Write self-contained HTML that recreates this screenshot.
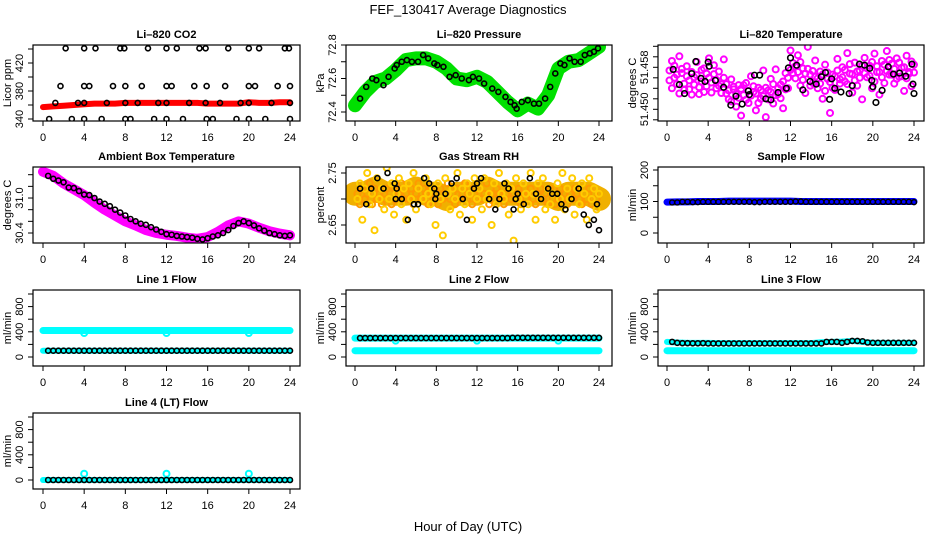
<!DOCTYPE html>
<html><head><meta charset="utf-8"><style>
html,body{margin:0;padding:0;background:#fff;width:936px;height:540px;overflow:hidden}
svg text{font-family:"Liberation Sans",Arial,sans-serif;fill:#000}
</style></head><body>
<svg id="chart" width="936" height="540" viewBox="0 0 936 540" xmlns="http://www.w3.org/2000/svg">
<defs id="defs"></defs>
<text x="468" y="14" font-size="13" text-anchor="middle">FEF_130417  Average Diagnostics</text>
<text x="468" y="531" font-size="13" text-anchor="middle">Hour of Day (UTC)</text>
</svg>
<script>
const xTicks=[0,4,8,12,16,20,24];
const halfHours=[0.5,1,1.5,2,2.5,3,3.5,4,4.5,5,5.5,6,6.5,7,7.5,8,8.5,9,9.5,10,10.5,11,11.5,12,12.5,13,13.5,14,14.5,15,15.5,16,16.5,17,17.5,18,18.5,19,19.5,20,20.5,21,21.5,22,22.5,23,23.5,24];
const hours=[0,1,2,3,4,5,6,7,8,9,10,11,12,13,14,15,16,17,18,19,20,21,22,23,24];
const denseHours=[0.24,0.48,0.72,0.96,1.2,1.44,1.68,1.92,2.16,2.4,2.64,2.88,3.12,3.36,3.6,3.84,4.08,4.32,4.56,4.8,5.04,5.28,5.52,5.76,6,6.24,6.48,6.72,6.96,7.2,7.44,7.68,7.92,8.16,8.4,8.64,8.88,9.12,9.36,9.6,9.84,10.08,10.32,10.56,10.8,11.04,11.28,11.52,11.76,12,12.24,12.48,12.72,12.96,13.2,13.44,13.68,13.92,14.16,14.4,14.64,14.88,15.12,15.36,15.6,15.84,16.08,16.32,16.56,16.8,17.04,17.28,17.52,17.76,18,18.24,18.48,18.72,18.96,19.2,19.44,19.68,19.92,20.16,20.4,20.64,20.88,21.12,21.36,21.6,21.84,22.08,22.32,22.56,22.8,23.04,23.28,23.52,23.76,24];

// CO2
const co2Band=[357,358,359,360,361,362,362,362,363,363,363,363,363,363,363,363,362,362,362,362,364,363,363,364,364];
const co2BlackT=[2.2,4,5.1,7.5,7.9,10.2,12,13,15.2,15.8,18,20,21,23.5,23.9, 1.7,4,4.5,6.8,8,9.6,12,12.5,14.7,15.9,17.7,20,20.6,22.8,24, 1.2,3.4,4,6.2,8,9.2,11.2,12,14.2,15.8,17.2,19.2,20,22.2,24, 0.6,2.8,4,5.7,8,8.5,10.8,12,13.6,15.9,16.5,18.8,20,21.6,24];
const co2BlackV=[441,441,441,441,441,441,441,441,441,441,441,441,441,441,441, 387,387,387,387,387,387,387,387,387,387,387,387,387,387,387, 363,363,363,363,363,363,363,363,363,363,363,363,363,363,363, 340,340,340,340,340,340,340,340,340,340,340,340,340,340,340];
// Pressure
const pressBand=[72.44,72.52,72.58,72.60,72.65,72.71,72.72,72.72,72.70,72.66,72.60,72.59,72.61,72.58,72.52,72.46,72.41,72.45,72.42,72.50,72.66,72.70,72.71,72.75,72.79];
const pressT=[0.5,1.1,1.7,2.1,2.8,3.3,3.9,4.1,4.6,5.1,5.6,6.2,6.7,7.2,7.8,8.1,8.7,9.3,9.9,10.5,11.2,11.6,12.2,12.7,13.5,14.1,14.8,15.3,15.7,15.9,16.4,17,17.6,18.1,18.7,19.2,19.7,20.2,20.6,21.1,21.6,22.2,22.6,23.1,23.5,23.9];
const pressV=[72.48,72.55,72.60,72.59,72.56,72.61,72.66,72.68,72.70,72.71,72.70,72.70,72.74,72.72,72.69,72.68,72.67,72.61,72.62,72.60,72.59,72.61,72.60,72.57,72.54,72.52,72.49,72.46,72.44,72.42,72.46,72.47,72.45,72.45,72.48,72.55,72.63,72.69,72.68,72.72,72.70,72.70,72.74,72.75,72.76,72.78];
// Li-820 temperature
const tempMag=[51.4574,51.4592,51.4560,51.4548,51.4601,51.4569,51.4537,51.4582,51.4555,51.4528,
51.4561,51.4590,51.4542,51.4575,51.4533,51.4568,51.4597,51.4551,51.4584,51.4540,
51.4572,51.4548,51.4595,51.4530,51.4519,51.4557,51.4538,51.4505,51.4546,51.4488,
51.4527,51.4550,51.4512,51.4563,51.4533,51.4498,51.4541,51.4520,51.4574,51.4485,
51.4536,51.4558,51.4511,51.4576,51.4529,51.4547,51.4502,51.4569,51.4540,51.4612,
51.4588,51.4559,51.4603,51.4545,51.4578,51.4531,51.4619,51.4566,51.4550,51.4593,
51.4540,51.4572,51.4520,51.4585,51.4558,51.4493,51.4566,51.4537,51.4596,51.4549,
51.4580,51.4553,51.4607,51.4568,51.4532,51.4589,51.4545,51.4574,51.4519,51.4598,
51.4561,51.4583,51.4540,51.4606,51.4571,51.4528,51.4592,51.4550,51.4611,51.4566,
51.4587,51.4549,51.4597,51.4562,51.4579,51.4535,51.4602,51.4571,51.4544,51.4585];
const tempMag2=[51.4555,51.4540,51.4583,51.4566,51.4530,51.4577,51.4549,51.4563,51.4538,51.4571,
51.4547,51.4565,51.4529,51.4553,51.4578,51.4544,51.4560,51.4532,51.4567,51.4556,
51.4545,51.4531,51.4560,51.4548,51.4536,51.4515,51.4543,51.4529,51.4522,51.4539,
51.4546,51.4518,51.4535,51.4526,51.4544,51.4530,51.4512,51.4537,51.4525,51.4541,
51.4519,51.4533,51.4548,51.4527,51.4540,51.4521,51.4553,51.4538,51.4560,51.4575,
51.4569,51.4582,51.4571,51.4590,51.4556,51.4568,51.4577,51.4545,51.4573,51.4562,
51.4559,51.4549,51.4566,51.4535,51.4570,51.4552,51.4541,51.4563,51.4574,51.4557,
51.4561,51.4575,51.4548,51.4586,51.4567,51.4555,51.4572,51.4560,51.4583,51.4569,
51.4578,51.4564,51.4590,51.4553,51.4582,51.4571,51.4561,51.4585,51.4573,51.4594,
51.4566,51.4577,51.4558,51.4589,51.4563,51.4580,51.4559,51.4568,51.4591,51.4570];
const tempBlackT=[0.6,1.2,1.7,2.4,2.8,3.3,3.7,4,4.1,4.7,5.5,6.2,6.7,7.3,7.9,8,8.5,9,9.6,10.1,10.8,11.6,11.8,12,12.6,13.2,13.9,14.5,15,15.4,15.8,16,16.3,16.9,17.7,18,18.7,19.2,19.7,19.9,20,20.3,20.9,21.5,22,22.6,23.2,23.8,23.9,24];
const tempBlackV=[51.4576,51.4547,51.4530,51.4568,51.4591,51.4559,51.4553,51.4590,51.4582,51.4555,51.4542,51.4508,51.4525,51.4510,51.4535,51.4528,51.4565,51.4565,51.4520,51.4518,51.4532,51.4540,51.4579,51.4598,51.4584,51.4537,51.4553,51.4548,51.4562,51.4570,51.4519,51.4558,51.4540,51.4533,51.4530,51.4545,51.4586,51.4584,51.4578,51.4555,51.4543,51.4513,51.4536,51.4581,51.4567,51.4569,51.4563,51.4586,51.4548,51.4530];
// Ambient box temp
const ambBand=[31.45,31.38,31.25,31.15,31.05,30.92,30.80,30.70,30.60,30.53,30.45,30.40,30.37,30.35,30.32,30.30,30.33,30.42,30.53,30.60,30.56,30.49,30.43,30.39,30.36];
const ambBlack=[31.38,31.33,31.30,31.27,31.18,31.17,31.12,31.06,31.05,31.00,30.94,30.90,30.86,30.80,30.75,30.70,30.64,30.60,30.56,30.54,30.50,30.46,30.42,30.38,30.37,30.35,30.34,30.33,30.32,30.30,30.29,30.31,30.34,30.36,30.40,30.45,30.52,30.57,30.60,30.57,30.53,30.48,30.44,30.40,30.38,30.36,30.35,30.36];
// Gas stream RH
const rhOrange=[2.70,2.73,2.66,2.72,2.75,2.69,2.71,2.64,2.74,2.70,2.72,2.68,2.76,2.70,2.73,2.67,2.71,2.74,2.69,2.72,2.66,2.73,2.70,2.75,2.68,2.72,2.77,2.70,2.74,2.71,2.69,2.72,2.65,2.73,2.70,2.63,2.74,2.71,2.68,2.72,2.70,2.75,2.67,2.72,2.69,2.73,2.71,2.66,2.74,2.70,2.72,2.68,2.74,2.70,2.71,2.65,2.73,2.69,2.75,2.71,2.70,2.73,2.67,2.72,2.62,2.74,2.70,2.68,2.73,2.71,2.69,2.75,2.71,2.66,2.73,2.70,2.74,2.68,2.72,2.69,2.71,2.66,2.73,2.70,2.75,2.68,2.72,2.70,2.74,2.67,2.72,2.69,2.73,2.71,2.66,2.74,2.70,2.72,2.68,2.71];
const rhOrange2=[2.71,2.69,2.72,2.70,2.71,2.73,2.69,2.72,2.70,2.71,2.69,2.71,2.72,2.70,2.69,2.72,2.70,2.71,2.73,2.70,2.71,2.70,2.72,2.69,2.71,2.73,2.70,2.72,2.71,2.69,2.72,2.70,2.71,2.69,2.72,2.70,2.71,2.73,2.70,2.71,2.69,2.72,2.70,2.71,2.73,2.70,2.72,2.69,2.71,2.70,2.72,2.70,2.71,2.73,2.69,2.71,2.70,2.72,2.71,2.70,2.69,2.71,2.72,2.70,2.71,2.70,2.72,2.69,2.71,2.70,2.71,2.72,2.70,2.69,2.71,2.72,2.70,2.71,2.69,2.72,2.70,2.69,2.71,2.72,2.70,2.71,2.69,2.71,2.70,2.72,2.71,2.70,2.69,2.71,2.70,2.72,2.69,2.71,2.70,2.71];
const rhBandV=[2.71,2.71,2.72,2.71,2.71,2.71,2.72,2.71,2.71,2.70,2.71,2.71,2.71,2.72,2.71,2.71,2.71,2.71,2.71,2.71,2.70,2.71,2.71,2.71,2.70];
const rhBlackT=[0.5,1.1,1.6,2.2,2.8,3.2,3.9,4,4.1,4.6,5.2,5.8,6.2,6.8,7.3,7.8,7.9,8,8.9,9.5,10,10.6,11,11.7,12,12.4,13.2,13.8,14.2,14.7,15.1,15.6,15.8,16,16.6,17.2,17.8,18.3,19,19.4,19.9,20.3,20.7,21.3,22,22.5,23,23.5,23.8,24];
const rhBlackV=[2.72,2.69,2.72,2.74,2.72,2.75,2.73,2.70,2.72,2.70,2.66,2.69,2.69,2.74,2.73,2.72,2.70,2.71,2.71,2.73,2.74,2.70,2.66,2.72,2.73,2.74,2.70,2.68,2.70,2.73,2.72,2.68,2.70,2.71,2.69,2.74,2.71,2.70,2.72,2.71,2.71,2.69,2.68,2.70,2.72,2.67,2.65,2.66,2.69,2.64];
// Sample flow
const sampleBand=[98,99,99,100,100,100,101,101,101,101,101,101,101,100,100,100,100,100,100,100,100,100,100,100,100];
const sampleBlack=[97,97,99,99,98,98,99,99,99,99,99,99,99,99,99,99,98,98,99,99,99,99,99,99,100,100,99,99,99,99,99,99,99,99,99,99,99,99,99,99,99,99,99,99,99,99,99,98];
// Line flows
const line1Cyan=[420,420,420,420,420,420,420,420,420,420,420,420,420,420,420,420,420,420,420,420,420,420,420,420,420];
const line1CyanLow=[100,100,100,100,100,100,100,100,100,100,100,100,100,100,100,100,100,100,100,100,100,100,100,100,100];
const outlierT=[4,12,20];
const line1Out=[380,380,380];
const line1Black=[100,100,100,100,100,100,100,100,100,100,100,100,100,100,100,100,100,100,100,100,100,100,100,100,100,100,100,100,100,100,100,100,100,100,100,100,100,100,100,100,100,100,100,100,100,100,100,100];
const line2Cyan=[100,100,100,100,100,100,100,100,100,100,100,100,100,100,100,100,100,100,100,100,100,100,100,100,100];
const line2CyanHigh=[300,300,300,300,300,300,300,300,300,300,300,300,300,300,300,300,300,300,300,300,300,300,300,300,300];
const line2Out=[260,260,260];
const line2Black=[300,300,300,300,300,300,300,300,300,300,300,300,300,300,300,300,300,300,300,300,300,300,300,300,300,300,300,300,300,300,305,305,305,305,305,305,305,305,305,305,305,305,305,305,305,305,305,305];
const line3Cyan=[100,100,100,100,100,100,100,100,100,100,100,100,100,100,100,100,100,100,100,100,100,100,100,100,100];
const line3CyanHigh=[240,230,225,225,225,220,220,220,220,220,220,220,220,220,220,235,240,245,255,240,225,225,225,225,225];
const line3Black=[240,225,220,220,218,218,220,215,215,215,215,215,215,215,215,215,215,215,215,215,215,215,215,215,215,215,215,215,215,215,240,240,240,225,240,255,255,250,230,225,225,225,225,225,225,225,225,225];
const line4Cyan=[0,0,0,0,0,0,0,0,0,0,0,0,0,0,0,0,0,0,0,0,0,0,0,0,0];
const line4Out=[100,100,100];
const line4Black=[0,0,0,0,0,0,0,0,0,0,0,0,0,0,0,0,0,0,0,0,0,0,0,0,0,0,0,0,0,0,0,0,0,0,0,0,0,0,0,0,0,0,0,0,0,0,0,0];

const svg=document.getElementById('chart');
const defs=document.getElementById('defs');
const NS='http://www.w3.org/2000/svg';
const cols=[{l:33,r:300,x0:43,x24:290},{l:346,r:612,x0:355,x24:599},{l:658,r:924,x0:667,x24:914}];
const rowTop=[45,167,290,413];
const H=76;
function mk(tag,attrs,parent){const e=document.createElementNS(NS,tag);for(const k in attrs)e.setAttribute(k,attrs[k]);(parent||svg).appendChild(e);return e;}

function makePanel(name,c,r,title,ylab,v0,y0,k,ticks,labels,dec){
  const C=cols[c],top=rowTop[r],bot=top+H;
  const g=mk('g',{});
  
  
  const P={g,C,top,bot,x:t=>C.x0+(C.x24-C.x0)*t/24,y:v=>y0-(v-v0)*k};
  const cp=mk('clipPath',{id:'clip-'+name},defs);
  mk('rect',{x:C.l,y:top,width:C.r-C.l,height:H},cp);
  const t=mk('text',{x:(C.l+C.r)/2,y:top-7,'font-size':11,'font-weight':'bold','text-anchor':'middle'},g);
  t.textContent=title;
  
  
  const yl=mk('text',{x:C.l-22,y:(top+bot)/2,'font-size':11,'text-anchor':'middle',transform:`rotate(-90 ${C.l-22} ${(top+bot)/2})`},g);
  yl.textContent=ylab;
  
  
  const yt=ticks.map(P.y);
  mk('line',{x1:C.l,x2:C.l,y1:Math.min(...yt),y2:Math.max(...yt),stroke:'#000'},g);
  ticks.forEach(v=>{const yy=P.y(v);mk('line',{x1:C.l-5,x2:C.l,y1:yy,y2:yy,stroke:'#000'},g);});
  labels.forEach(v=>{const yy=P.y(v);const tx=C.l-10;
    const e=mk('text',{x:tx,y:yy,'font-size':11,'text-anchor':'middle',transform:`rotate(-90 ${tx} ${yy})`},g);
    e.textContent=v.toFixed(dec);
    
    });
  mk('line',{x1:C.x0,x2:C.x24,y1:bot,y2:bot,stroke:'#000'},g);
  xTicks.forEach(v=>{const xx=P.x(v);mk('line',{x1:xx,x2:xx,y1:bot,y2:bot+5,stroke:'#000'},g);
    const e=mk('text',{x:xx,y:bot+20,'font-size':11,'text-anchor':'middle'},g);e.textContent=v;
    
    });
  P.marks=mk('g',{'clip-path':'url(#clip-'+name+')'},g);
  mk('rect',{x:C.l,y:top,width:C.r-C.l,height:H,fill:'none',stroke:'#000','stroke-width':1.2},g);
  return P;
}
function band(P,xs,vs,color,w,name){
  const pl=mk('polyline',{points:xs.map((x,i)=>P.x(x)+','+P.y(vs[i])).join(' '),fill:'none',stroke:color,'stroke-width':w,'stroke-linecap':'round','stroke-linejoin':'round'},P.marks);
  
  
}
function pts(P,xs,vs,color,rad,sw,name){
  const g=mk('g',{},P.marks);
  
  
  xs.forEach((x,i)=>{const c=mk('circle',{cx:P.x(x),cy:P.y(vs[i]),r:rad,fill:'none',stroke:color,'stroke-width':sw},g);
    
    });
}

// Row 1
let P=makePanel('co2',0,0,'Li–820 CO2','Licor ppm',340,119,0.7,[340,360,380,400,420,440],[340,380,420],0);
band(P,hours,co2Band,'#ff0000',6,'co2-red-band');
pts(P,co2BlackT,co2BlackV,'#000',2.5,1.6,'co2-black');
P=makePanel('pressure',1,0,'Li–820 Pressure','kPa',72.4,112,167.5,[72.4,72.5,72.6,72.7,72.8],[72.4,72.6,72.8],1);
band(P,hours,pressBand,'#00e000',14,'pressure-green-band');
pts(P,pressT,pressV,'#000',2.5,1.6,'pressure-black');
P=makePanel('li820-temp',2,0,'Li–820 Temperature','degrees C',51.45,109.3,5250,[51.448,51.45,51.452,51.454,51.456,51.458,51.46,51.462],[51.45,51.458],3);
pts(P,denseHours,tempMag,'#ff00ff',3,2,'temp-magenta');
pts(P,denseHours,tempMag2,'#ff00ff',3,2,'temp-magenta-2');
pts(P,tempBlackT,tempBlackV,'#000',2.8,1.6,'temp-black');
// Row 2
P=makePanel('ambient',0,1,'Ambient Box Temperature','degrees C',30.4,233,58.3,[30.4,30.6,30.8,31.0,31.2,31.4],[30.4,31.0],1);
band(P,hours,ambBand,'#ff00ff',10,'ambient-magenta-band');
pts(P,halfHours,ambBlack,'#000',2.5,1.6,'ambient-black');
P=makePanel('rh',1,1,'Gas Stream RH','percent',2.75,173,520,[2.65,2.7,2.75],[2.65,2.75],2);
band(P,hours,rhBandV,'#f0b000',24,'rh-orange-band');
pts(P,denseHours,rhOrange2,'#ff9900',3,2,'rh-orange-2');
pts(P,denseHours,rhOrange,'#ffcc00',3,2,'rh-orange');
pts(P,rhBlackT,rhBlackV,'#000',2.5,1.6,'rh-black');
P=makePanel('sample-flow',2,1,'Sample Flow','ml/min',0,233,0.315,[0,50,100,150,200],[0,100,200],0);
band(P,hours,sampleBand,'#0000ff',7,'sample-blue-band');
pts(P,halfHours,sampleBlack,'#000',2.5,1.4,'sample-black');
// Row 3
P=makePanel('line1',0,2,'Line 1 Flow','ml/min',0,357,0.063,[0,200,400,600,800,1000],[0,400,800],0);
band(P,hours,line1Cyan,'#00ffff',7,'line1-cyan-band');
band(P,hours,line1CyanLow,'#00ffff',6,'line1-cyan-low');
pts(P,outlierT,line1Out,'#00ffff',3,2,'line1-cyan-outlier');
pts(P,halfHours,line1Black,'#000',2.5,1.6,'line1-black');
P=makePanel('line2',1,2,'Line 2 Flow','ml/min',0,357,0.063,[0,200,400,600,800,1000],[0,400,800],0);
band(P,hours,line2Cyan,'#00ffff',7,'line2-cyan-band');
band(P,hours,line2CyanHigh,'#00ffff',7,'line2-cyan-high');
pts(P,outlierT,line2Out,'#00ffff',3,2,'line2-cyan-outlier');
pts(P,halfHours,line2Black,'#000',2.5,1.6,'line2-black');
P=makePanel('line3',2,2,'Line 3 Flow','ml/min',0,357,0.063,[0,200,400,600,800,1000],[0,400,800],0);
band(P,hours,line3Cyan,'#00ffff',7,'line3-cyan-band');
band(P,hours,line3CyanHigh,'#00ffff',6,'line3-cyan-high');
pts(P,halfHours,line3Black,'#000',2.5,1.6,'line3-black');
// Row 4
P=makePanel('line4',0,3,'Line 4 (LT) Flow','ml/min',0,480,0.063,[0,200,400,600,800,1000],[0,400,800],0);
band(P,hours,line4Cyan,'#00ffff',6,'line4-cyan-band');
pts(P,outlierT,line4Out,'#00ffff',3,2,'line4-cyan-outlier');
pts(P,halfHours,line4Black,'#000',2.5,1.6,'line4-black');
</script>
</body></html>
